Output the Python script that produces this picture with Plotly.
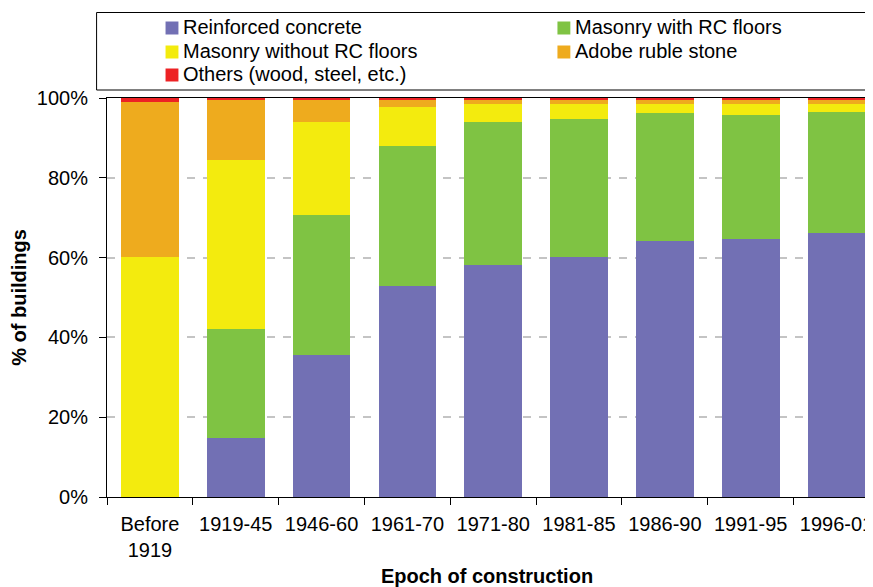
import plotly.graph_objects as go

categories = ["Before<br>1919", "1919-45", "1946-60", "1961-70", "1971-80",
              "1981-85", "1986-90", "1991-95", "1996-01"]
reinforced_concrete = [0, 14.8, 35.6, 52.9, 58.2, 60.2, 64.2, 64.7, 66.2]
masonry_with_rc = [0, 27.3, 35.1, 35.1, 35.7, 34.6, 32.1, 31.1, 30.4]
masonry_without_rc = [60.2, 42.4, 23.2, 9.7, 4.6, 3.7, 2.2, 2.7, 1.9]
adobe_ruble_stone = [38.8, 15.0, 5.6, 1.8, 1.0, 1.0, 1.0, 1.0, 1.0]
others = [1.0, 0.5, 0.5, 0.5, 0.5, 0.5, 0.5, 0.5, 0.5]

series_names = ["Reinforced concrete", "Masonry with RC floors",
                "Masonry without RC floors", "Adobe ruble stone",
                "Others (wood, steel, etc.)"]
series_values = [reinforced_concrete, masonry_with_rc, masonry_without_rc,
                 adobe_ruble_stone, others]
colors = ["#7270B4", "#7FC343", "#F3EB0E", "#EEAB1E", "#ED2224"]

y_ticks = [0, 20, 40, 60, 80, 100]

FONT = "Liberation Sans, Arial, Helvetica, sans-serif"
OFF = 8  # page body margin
W, H = 873 - OFF, 587 - OFF
ML, MR, MT, MB = 107 - OFF, 0, 98 - OFF, 90
PW = W - ML - MR
PH = H - MT - MB


def px_x(p):
    # p: page pixel x
    return (p - OFF - ML) / PW


def px_y(p):
    # p: page pixel y
    return (H - MB - (p - OFF)) / PH


fig = go.Figure()
for name, vals, col in zip(series_names, series_values, colors):
    fig.add_trace(go.Bar(
        x=categories, y=vals, name=name,
        marker=dict(color=col, line=dict(width=0)),
        showlegend=False,
    ))

# manual legend (box, swatches, labels)
shapes = [dict(type="rect", xref="paper", yref="paper",
               x0=px_x(96.5), x1=px_x(885), y0=px_y(90), y1=px_y(12.5),
               line=dict(color="black", width=1), fillcolor="white", layer="above")]
annotations = []
legend_pos = [(166, 28), (561, 28), (166, 52), (561, 52), (166, 75)]
for (lx, ly), name, col in zip(legend_pos, series_names, colors):
    shapes.append(dict(type="rect", xref="paper", yref="paper",
                       x0=px_x(lx), x1=px_x(lx + 13),
                       y0=px_y(ly + 6.5), y1=px_y(ly - 6.5),
                       line=dict(width=0), fillcolor=col, layer="above"))
    annotations.append(dict(xref="paper", yref="paper", x=px_x(lx + 16), y=px_y(ly - 1),
                            xanchor="left", yanchor="middle", showarrow=False,
                            text=name, font=dict(family=FONT, size=20, color="black")))

fig.update_layout(
    width=W, height=H,
    margin=dict(l=ML, r=MR, t=MT, b=MB, pad=0),
    barmode="stack", bargap=0.328,
    plot_bgcolor="white", paper_bgcolor="white",
    font=dict(family=FONT, size=20, color="black"),
    shapes=shapes, annotations=annotations,
    xaxis=dict(
        type="category", range=[-0.5, 8.355],
        showline=True, linecolor="black", linewidth=1, mirror=True,
        ticks="outside", ticklen=7, tickcolor="black", tickson="boundaries",
        tickfont=dict(family=FONT, size=20, color="black"),
        ticklabelstandoff=9,
        showgrid=False,
        title=dict(text="<b>Epoch of construction</b>", standoff=10,
                   font=dict(family=FONT, size=20, color="black")),
    ),
    yaxis=dict(
        range=[0, 100], tickvals=y_ticks, ticktext=[f"{v}%" for v in y_ticks],
        showline=True, linecolor="black", linewidth=1,
        ticks="outside", ticklen=7, tickcolor="black",
        tickfont=dict(family=FONT, size=20, color="black"),
        ticklabelstandoff=7,
        showgrid=True, gridcolor="#C4C4C4", gridwidth=1.5, griddash="8px,8px",
        zeroline=False,
        title=dict(text="<b>% of buildings</b>", standoff=4,
                   font=dict(family=FONT, size=20, color="black")),
    ),
)

fig.write_html("out.html")
